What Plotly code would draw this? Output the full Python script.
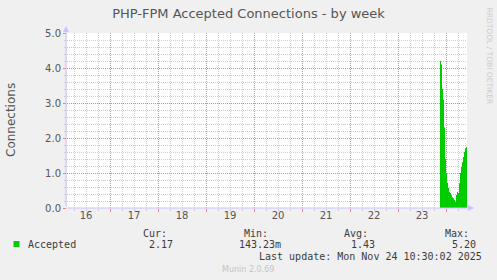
import plotly.graph_objects as go

# ---------------- data ----------------
title_text = "PHP-FPM Accepted Connections - by week"
y_title = "Connections"
series_name = "Accepted"

x_start = "2025-11-16 02:30:02"
x_end = "2025-11-24 10:30:02"

day_labels = ["16", "17", "18", "19", "20", "21", "22", "23"]
day_centers = ["2025-11-16 12:00", "2025-11-17 12:00", "2025-11-18 12:00", "2025-11-19 12:00",
               "2025-11-20 12:00", "2025-11-21 12:00", "2025-11-22 12:00", "2025-11-23 12:00"]
day_bounds = ["2025-11-17", "2025-11-18", "2025-11-19", "2025-11-20",
              "2025-11-21", "2025-11-22", "2025-11-23", "2025-11-24"]

y_ticks = [0, 1, 2, 3, 4, 5]
y_ticktext = ["0.0", "1.0", "2.0", "3.0", "4.0", "5.0"]

times = ["2025-11-23 21:00", "2025-11-23 21:30", "2025-11-23 22:00", "2025-11-23 22:30",
         "2025-11-23 23:00", "2025-11-23 23:30", "2025-11-24 00:00", "2025-11-24 00:30",
         "2025-11-24 01:00", "2025-11-24 01:30", "2025-11-24 02:00", "2025-11-24 02:30",
         "2025-11-24 03:00", "2025-11-24 03:30", "2025-11-24 04:00", "2025-11-24 04:30",
         "2025-11-24 05:00", "2025-11-24 05:30", "2025-11-24 06:00", "2025-11-24 06:30",
         "2025-11-24 07:00", "2025-11-24 07:30", "2025-11-24 08:00", "2025-11-24 08:30",
         "2025-11-24 09:00", "2025-11-24 09:30", "2025-11-24 10:00"]
accepted = [4.20, 4.10, 3.40, 3.10, 2.30, 1.40, 1.00, 0.72,
            0.57, 0.46, 0.43, 0.37, 0.31, 0.28, 0.23, 0.17,
            0.37, 0.46, 0.43, 0.71, 1.00, 1.17, 1.31, 1.46,
            1.60, 1.71, 1.74]

stat_names = ["Cur:", "Min:", "Avg:", "Max:"]
stat_values = ["2.17", "143.23m", "1.43", "5.20"]
last_update = "Last update: Mon Nov 24 10:30:02 2025"
munin_version = "Munin 2.0.69"
rrd_credit = "RRDTOOL / TOBI OETIKER"

# ---------------- style ----------------
W, H = 497, 280
L, R, T, B = 67, 30, 33, 72
PW, PH = W - L - R, H - T - B
BG = "#F0F0F0"
GREEN = "#00CC00"
AXIS = "#C4C4FF"
MAJOR = "rgb(236,130,130)"
MINOR = "rgb(205,205,205)"
TXT = "#555555"
LEG = "#3C3C3C"
MONO = "DejaVu Sans Mono"
SANS = "DejaVu Sans"

# minor grid positions (every 6 h / every 0.2, skipping the major positions)
x_minor = ["2025-11-%02d %02d:00" % (d, h) for d in range(16, 25) for h in (6, 12, 18)]
y_minor = [round(i * 0.2, 1) for i in range(1, 25) if i % 5 != 0]


def px(xp):
    return (xp - L) / PW


def py(yp):
    return (H - B - yp) / PH


xs = times + [x_end]
ys = accepted + [accepted[-1]]

fig = go.Figure()
fig.add_trace(go.Scatter(x=xs, y=ys, mode="lines", line=dict(shape="hv", width=0, color=GREEN),
                         fill="tozeroy", fillcolor=GREEN, hoverinfo="skip", showlegend=False))
# invisible trace to create the label axis
fig.add_trace(go.Scatter(x=[x_start], y=[0], xaxis="x2", mode="markers",
                         marker=dict(opacity=0), hoverinfo="skip", showlegend=False))

fig.update_layout(
    width=W, height=H,
    margin=dict(l=L, r=R, t=T, b=B),
    paper_bgcolor=BG, plot_bgcolor="white",
    showlegend=False,
    title=dict(text=title_text, x=0.5, xanchor="center", y=1 - 13 / H, yanchor="middle",
               font=dict(family=SANS, size=13, color=TXT)),
    xaxis=dict(type="date", range=[x_start, x_end], tickmode="array", tickvals=day_bounds,
               showticklabels=False, showgrid=True, gridcolor=MAJOR, griddash="1px,1px", gridwidth=1,
               ticks="outside", ticklen=3, tickcolor=MAJOR,
               minor=dict(tickmode="array", tickvals=x_minor, showgrid=True, gridcolor=MINOR,
                          griddash="1px,1px", ticks="outside", ticklen=2, tickcolor=MINOR),
               zeroline=False, showline=False, fixedrange=True),
    xaxis2=dict(type="date", range=[x_start, x_end], overlaying="x", anchor="y", side="bottom",
                tickmode="array", tickvals=day_centers, ticktext=day_labels, showgrid=False,
                ticks="", tickfont=dict(family=SANS, size=10, color=TXT),
                zeroline=False, showline=False),
    yaxis=dict(range=[0, 5], tickmode="array", tickvals=y_ticks, ticktext=y_ticktext,
               showgrid=True, gridcolor=MAJOR, griddash="1px,1px", gridwidth=1,
               ticks="outside", ticklen=3, tickcolor=MAJOR,
               minor=dict(tickmode="array", tickvals=y_minor, showgrid=True, gridcolor=MINOR,
                          griddash="1px,1px", ticks="outside", ticklen=2, tickcolor=MINOR),
               tickfont=dict(family=SANS, size=10, color=TXT),
               zeroline=False, showline=False, fixedrange=True),
)

ann = []
# axis arrows
ann.append(dict(xref="paper", yref="paper", x=px(474), y=py(208), ax=-(474 - 66), ay=0,
                axref="pixel", ayref="pixel", showarrow=True, arrowhead=2, arrowsize=1.2,
                arrowwidth=1, arrowcolor=AXIS, text=""))
ann.append(dict(xref="paper", yref="paper", x=px(66), y=py(26), ax=0, ay=(208 - 26),
                axref="pixel", ayref="pixel", showarrow=True, arrowhead=2, arrowsize=1.2,
                arrowwidth=1, arrowcolor=AXIS, text=""))
# y title
ann.append(dict(xref="paper", yref="paper", x=px(11), y=py(120), text=y_title, textangle=-90,
                showarrow=False, xanchor="center", yanchor="middle",
                font=dict(family=SANS, size=12, color=TXT)))
# rrdtool credit
ann.append(dict(xref="paper", yref="paper", x=px(489), y=py(5), text=rrd_credit, textangle=90,
                showarrow=False, xanchor="center", yanchor="top",
                font=dict(family=SANS, size=7.5, color="#CCCCCC")))
# legend row
ann.append(dict(xref="paper", yref="paper", x=px(26), y=py(244), text=series_name,
                showarrow=False, xanchor="left", yanchor="middle",
                font=dict(family=MONO, size=10, color=LEG)))
name_right = [169, 270, 370, 471]
val_right = [175, 283, 377, 478]
for i, (n, v) in enumerate(zip(stat_names, stat_values)):
    ann.append(dict(xref="paper", yref="paper", x=px(name_right[i]), y=py(233), text=n,
                    showarrow=False, xanchor="right", yanchor="middle",
                    font=dict(family=MONO, size=10, color=LEG)))
    ann.append(dict(xref="paper", yref="paper", x=px(val_right[i]), y=py(244), text=v,
                    showarrow=False, xanchor="right", yanchor="middle",
                    font=dict(family=MONO, size=10, color=LEG)))
ann.append(dict(xref="paper", yref="paper", x=px(484), y=py(256), text=last_update,
                showarrow=False, xanchor="right", yanchor="middle",
                font=dict(family=MONO, size=10, color=LEG)))
ann.append(dict(xref="paper", yref="paper", x=px(248), y=py(269), text=munin_version,
                showarrow=False, xanchor="center", yanchor="middle",
                font=dict(family=SANS, size=8, color="#C4C4C4")))
fig.update_layout(annotations=ann)

# legend swatch
fig.add_shape(type="rect", xref="paper", yref="paper", xsizemode="pixel", ysizemode="pixel",
              xanchor=px(16.5), yanchor=py(244), x0=-3, x1=3, y0=-3, y1=3,
              fillcolor=GREEN, line=dict(width=0))

fig.write_html("out.html")
